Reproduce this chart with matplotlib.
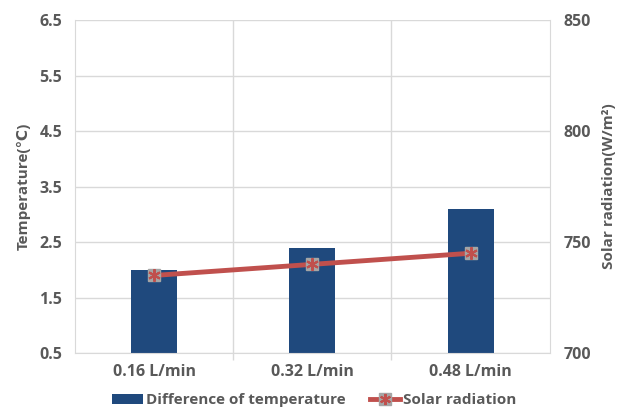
import numpy as np
import matplotlib.pyplot as plt
from matplotlib.lines import Line2D
from matplotlib.patches import Patch

categories = ["0.16 L/min", "0.32 L/min", "0.48 L/min"]
temp_diff = [2.0, 2.4, 3.1]
solar = [735, 740, 745]

plt.rcParams['font.family'] = ['Open Sans', 'DejaVu Sans']
txt = '#595959'
grid_c = '#D9D9D9'

fig = plt.figure(figsize=(6.29, 4.17), dpi=100)
ax = fig.add_axes([0.119, 0.153, 0.755, 0.799])
x = np.arange(len(categories))

ax.bar(x, temp_diff, width=0.29, bottom=0, color='#1F497D', zorder=2)
ax.set_xlim(-0.5, 2.5)
ax.set_ylim(0.5, 6.5)
ax.set_yticks(np.arange(0.5, 6.6, 1.0))
ax.set_yticklabels([f'{v:.1f}' for v in np.arange(0.5, 6.6, 1.0)])
ax.set_xticks(x)
ax.set_xticklabels(categories)
ax.set_xticks([0.5, 1.5], minor=True)
ax.tick_params(axis='x', which='major', length=0, pad=8)
ax.tick_params(axis='x', which='minor', length=5, color=grid_c, width=1)
ax.tick_params(axis='y', length=0, pad=9)
ax.grid(axis='y', color=grid_c, linewidth=1, zorder=0)
for xv in [0.5, 1.5]:
    ax.axvline(xv, color=grid_c, linewidth=1, zorder=0)
for s in ax.spines.values():
    s.set_color(grid_c)
ax.spines['top'].set_visible(False)
ax.set_ylabel('Temperature(℃)', color=txt, fontsize=11, fontweight='bold', labelpad=6)

ax2 = ax.twinx()
ax2.set_ylim(700, 850)
ax2.set_yticks([700, 750, 800, 850])
ax2.tick_params(axis='y', length=0, pad=10)
for s in ax2.spines.values():
    s.set_visible(False)
ax2.plot(x, solar, color='#C0504D', linewidth=3.5, zorder=3, solid_capstyle='round')
ax2.plot(x, solar, linestyle='none', marker='s', markersize=9, markerfacecolor='#A5A5A5',
         markeredgecolor='#A5A5A5', zorder=4)
ax2.plot(x, solar, linestyle='none', marker=(6, 2, 0), markersize=9, markeredgecolor='#C0504D',
         markeredgewidth=1.5, zorder=5)
ax2.set_ylabel('Solar radiation(W/m²)', color=txt, fontsize=11, fontweight='bold', labelpad=8)

for a in (ax, ax2):
    for lab in a.get_xticklabels() + a.get_yticklabels():
        lab.set_color(txt)
        lab.set_fontsize(11.5)
        lab.set_fontweight('bold')

handles = [Patch(facecolor='#1F497D'),
           (Line2D([], [], color='#C0504D', linewidth=3.5, marker='s', markersize=8,
                   markerfacecolor='#A5A5A5', markeredgecolor='#A5A5A5'),
            Line2D([], [], linestyle='none', marker=(6, 2, 0), markersize=8,
                   markeredgecolor='#C0504D', markeredgewidth=1.5))]
leg = fig.legend(handles, ['Difference of temperature', 'Solar radiation'], loc='lower center',
                 bbox_to_anchor=(0.5, -0.01), ncol=2, frameon=False, handlelength=2.0,
                 columnspacing=1.6, handletextpad=0.2, prop={'size': 11, 'weight': 'bold'})
for t in leg.get_texts():
    t.set_color(txt)

fig.savefig('out.png', dpi=100)
